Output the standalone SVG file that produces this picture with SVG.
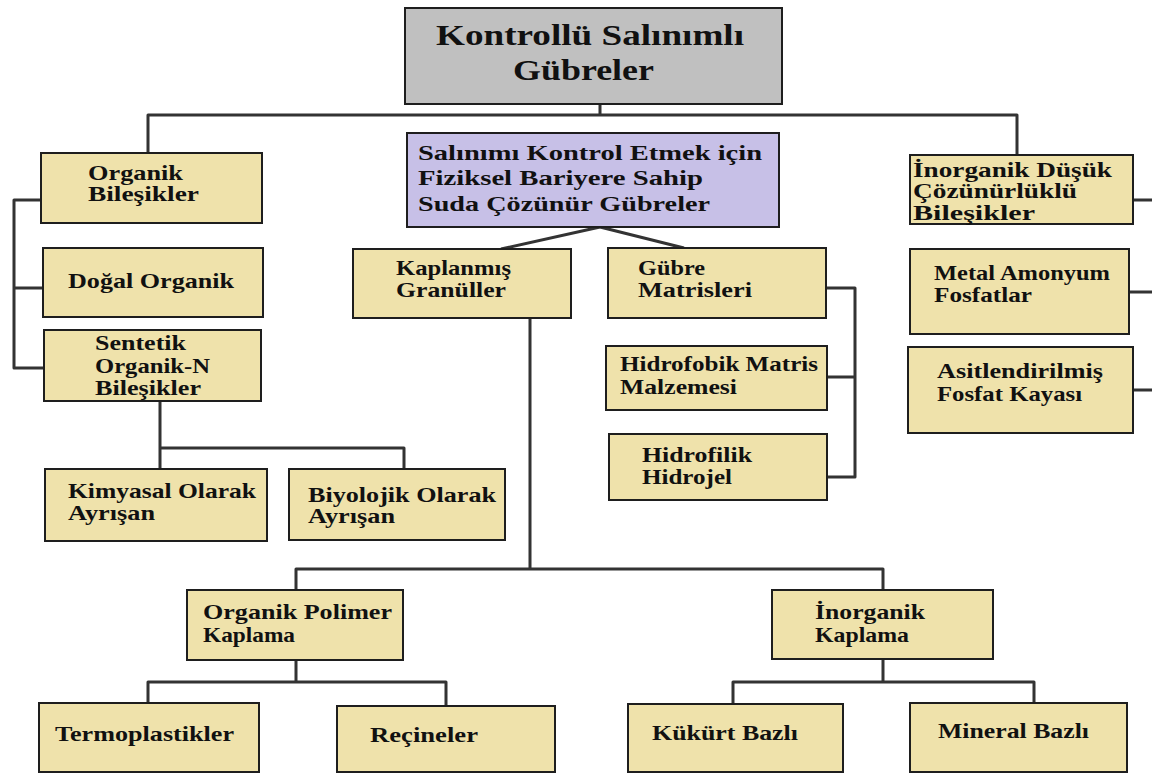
<svg xmlns="http://www.w3.org/2000/svg" width="1152" height="776" viewBox="0 0 1152 776">
<style>
.n{fill:#efe2ab;stroke:#1e1e1e;stroke-width:2}
.t{font-family:"Liberation Serif","Times New Roman",serif;font-weight:bold;font-size:21px;fill:#111}
.big{font-size:29px}
.c{fill:none;stroke:#333;stroke-width:3;stroke-linejoin:round}
</style>
<rect width="1152" height="776" fill="#fff"/>
<g id="connectors">
<path class="c" d="M600,104 V115 M148,153 V115 H1017 V155"/>
<path class="c" d="M41,200 H14 V368 H44 M14,288 H43"/>
<path class="c" d="M501,249 L600,227 L684,248"/>
<path class="c" d="M160,401 V469 M160,448 H404 V469"/>
<path class="c" d="M530,318 V569 M296,590 V569 H883 V590"/>
<path class="c" d="M296,660 V682 M148,703 V682 H446 V706"/>
<path class="c" d="M883,659 V682 M733,704 V682 H1034 V703"/>
<path class="c" d="M826,288 H855 V477 H827 M827,377 H855"/>
<path class="c" d="M1133,200 H1152 M1129,292 H1152 M1133,390 H1152"/>
</g>
<g id="root">
<rect x="405" y="8" width="377" height="96" fill="#c0c0c0" stroke="#1e1e1e" stroke-width="2"/>
<text class="t big" x="436" y="45" textLength="308" lengthAdjust="spacingAndGlyphs">Kontrollü Salınımlı</text>
<text class="t big" x="513" y="80" textLength="141" lengthAdjust="spacingAndGlyphs">Gübreler</text>
</g>
<g id="physical">
<rect x="407" y="133" width="372" height="94" fill="#c7c0e7" stroke="#1e1e1e" stroke-width="2"/>
<text class="t" x="418" y="160" textLength="344" lengthAdjust="spacingAndGlyphs">Salınımı Kontrol Etmek için</text>
<text class="t" x="418" y="185" textLength="285" lengthAdjust="spacingAndGlyphs">Fiziksel Bariyere Sahip</text>
<text class="t" x="418" y="211" textLength="292" lengthAdjust="spacingAndGlyphs">Suda Çözünür Gübreler</text>
</g>
<g id="organik">
<rect class="n" x="41" y="153" width="221" height="70"/>
<text class="t" x="88" y="180" textLength="95" lengthAdjust="spacingAndGlyphs">Organik</text>
<text class="t" x="88" y="201" textLength="111" lengthAdjust="spacingAndGlyphs">Bileşikler</text>
</g>
<g id="dogal">
<rect class="n" x="43" y="248" width="220" height="69"/>
<text class="t" x="68" y="288" textLength="166" lengthAdjust="spacingAndGlyphs">Doğal Organik</text>
</g>
<g id="sentetik">
<rect class="n" x="44" y="330" width="217" height="71"/>
<text class="t" x="95" y="350" textLength="91" lengthAdjust="spacingAndGlyphs">Sentetik</text>
<text class="t" x="95" y="373" textLength="115" lengthAdjust="spacingAndGlyphs">Organik-N</text>
<text class="t" x="95" y="395" textLength="106" lengthAdjust="spacingAndGlyphs">Bileşikler</text>
</g>
<g id="kimyasal">
<rect class="n" x="45" y="469" width="222" height="72"/>
<text class="t" x="68" y="498" textLength="188" lengthAdjust="spacingAndGlyphs">Kimyasal Olarak</text>
<text class="t" x="68" y="520" textLength="87" lengthAdjust="spacingAndGlyphs">Ayrışan</text>
</g>
<g id="biyolojik">
<rect class="n" x="289" y="469" width="216" height="71"/>
<text class="t" x="308" y="502" textLength="188" lengthAdjust="spacingAndGlyphs">Biyolojik Olarak</text>
<text class="t" x="308" y="523" textLength="87" lengthAdjust="spacingAndGlyphs">Ayrışan</text>
</g>
<g id="kaplanmis">
<rect class="n" x="353" y="249" width="218" height="69"/>
<text class="t" x="396" y="275" textLength="115" lengthAdjust="spacingAndGlyphs">Kaplanmış</text>
<text class="t" x="396" y="297" textLength="110" lengthAdjust="spacingAndGlyphs">Granüller</text>
</g>
<g id="gubre">
<rect class="n" x="608" y="248" width="218" height="70"/>
<text class="t" x="638" y="275" textLength="67" lengthAdjust="spacingAndGlyphs">Gübre</text>
<text class="t" x="638" y="297" textLength="114" lengthAdjust="spacingAndGlyphs">Matrisleri</text>
</g>
<g id="hidrofobik">
<rect class="n" x="606" y="346" width="221" height="64"/>
<text class="t" x="620" y="371" textLength="198" lengthAdjust="spacingAndGlyphs">Hidrofobik Matris</text>
<text class="t" x="620" y="394" textLength="117" lengthAdjust="spacingAndGlyphs">Malzemesi</text>
</g>
<g id="hidrofilik">
<rect class="n" x="609" y="434" width="218" height="66"/>
<text class="t" x="642" y="462" textLength="110" lengthAdjust="spacingAndGlyphs">Hidrofilik</text>
<text class="t" x="642" y="484" textLength="90" lengthAdjust="spacingAndGlyphs">Hidrojel</text>
</g>
<g id="inorganik">
<rect class="n" x="910" y="155" width="223" height="69"/>
<text class="t" x="913" y="177" textLength="199" lengthAdjust="spacingAndGlyphs">İnorganik Düşük</text>
<text class="t" x="913" y="198" textLength="164" lengthAdjust="spacingAndGlyphs">Çözünürlüklü</text>
<text class="t" x="913" y="220" textLength="122" lengthAdjust="spacingAndGlyphs">Bileşikler</text>
</g>
<g id="metal">
<rect class="n" x="910" y="249" width="219" height="85"/>
<text class="t" x="934" y="280" textLength="176" lengthAdjust="spacingAndGlyphs">Metal Amonyum</text>
<text class="t" x="934" y="302" textLength="98" lengthAdjust="spacingAndGlyphs">Fosfatlar</text>
</g>
<g id="asit">
<rect class="n" x="908" y="347" width="225" height="86"/>
<text class="t" x="937" y="378" textLength="166" lengthAdjust="spacingAndGlyphs">Asitlendirilmiş</text>
<text class="t" x="937" y="401" textLength="145" lengthAdjust="spacingAndGlyphs">Fosfat Kayası</text>
</g>
<g id="polimer">
<rect class="n" x="187" y="590" width="216" height="70"/>
<text class="t" x="203" y="619" textLength="189" lengthAdjust="spacingAndGlyphs">Organik Polimer</text>
<text class="t" x="203" y="642" textLength="92" lengthAdjust="spacingAndGlyphs">Kaplama</text>
</g>
<g id="inorgkaplama">
<rect class="n" x="772" y="590" width="221" height="69"/>
<text class="t" x="815" y="619" textLength="110" lengthAdjust="spacingAndGlyphs">İnorganik</text>
<text class="t" x="815" y="642" textLength="94" lengthAdjust="spacingAndGlyphs">Kaplama</text>
</g>
<g id="termo">
<rect class="n" x="39" y="703" width="220" height="69"/>
<text class="t" x="55" y="741" textLength="179" lengthAdjust="spacingAndGlyphs">Termoplastikler</text>
</g>
<g id="recine">
<rect class="n" x="337" y="706" width="218" height="66"/>
<text class="t" x="370" y="742" textLength="108" lengthAdjust="spacingAndGlyphs">Reçineler</text>
</g>
<g id="kukurt">
<rect class="n" x="628" y="704" width="215" height="68"/>
<text class="t" x="652" y="740" textLength="146" lengthAdjust="spacingAndGlyphs">Kükürt Bazlı</text>
</g>
<g id="mineral">
<rect class="n" x="910" y="703" width="217" height="69"/>
<text class="t" x="938" y="738" textLength="151" lengthAdjust="spacingAndGlyphs">Mineral Bazlı</text>
</g>
</svg>
